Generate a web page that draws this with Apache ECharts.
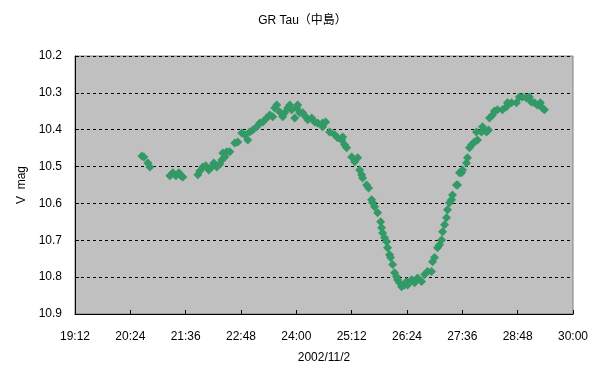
<!DOCTYPE html>
<html><head><meta charset="utf-8">
<script src="https://cdn.jsdelivr.net/npm/echarts@6/dist/echarts.min.js"></script>
<style>html,body{margin:0;padding:0;background:#fff}#c{width:605px;height:383px}</style>
</head><body><div id="c"></div>
<script>
const title = 'GR Tau（中島）';
const xTitle = '2002/11/2';
const yTitle = 'V  mag';
// observation time (hours since 0:00 of 2002/11/2)
const times = [20.651,20.694,20.781,20.824,
21.258,21.323,21.388,21.453,21.496,21.539,
21.864,21.907,21.972,22.037,22.102,22.167,22.211,22.276,22.341,22.384,22.406,22.449,22.492,22.557,
22.665,22.730,22.817,22.882,22.947,22.990,23.055,23.142,23.207,23.272,23.359,23.424,23.489,23.532,23.575,
23.640,23.705,23.748,23.813,23.857,23.900,23.965,24.008,24.030,24.073,24.138,24.203,24.247,24.333,24.398,
24.463,24.571,24.636,24.571,24.723,24.831,24.896,24.983,25.005,25.048,25.091,25.200,25.265,25.330,25.373,
25.416,25.438,25.524,25.568,25.633,25.654,25.698,25.763,25.828,25.849,25.871,25.914,25.958,25.979,26.023,
26.044,26.088,26.131,26.174,26.196,26.239,26.282,26.347,26.391,26.412,26.499,26.564,26.629,26.716,26.781,
26.846,26.932,26.954,26.997,27.062,27.106,27.149,27.171,27.214,27.257,27.279,27.322,27.366,27.387,27.474,
27.495,27.539,27.582,27.604,27.690,27.712,27.755,27.799,27.864,27.929,27.907,28.015,28.037,28.124,28.167,
28.189,28.254,28.297,28.362,28.470,28.557,28.578,28.665,28.773,28.838,28.903,28.990,29.055,29.098,29.163,
29.228,29.293,29.336,29.380];
// V magnitude
const mags = [10.471,10.474,10.490,10.501,
10.525,10.517,10.525,10.517,10.525,10.528,
10.522,10.512,10.501,10.498,10.509,10.501,10.490,10.501,10.493,10.482,10.463,10.474,10.460,10.460,
10.436,10.433,10.409,10.414,10.428,10.406,10.401,10.392,10.382,10.379,10.368,10.360,10.365,10.341,10.333,
10.352,10.365,10.354,10.341,10.333,10.346,10.368,10.341,10.333,10.354,10.354,10.365,10.373,10.368,10.379,
10.382,10.382,10.379,10.392,10.406,10.414,10.422,10.428,10.420,10.441,10.449,10.474,10.487,10.476,10.509,
10.522,10.531,10.550,10.558,10.590,10.598,10.609,10.625,10.650,10.666,10.680,10.693,10.704,10.720,10.739,
10.747,10.766,10.788,10.799,10.807,10.815,10.826,10.821,10.812,10.821,10.807,10.815,10.802,10.812,10.793,
10.785,10.785,10.758,10.747,10.720,10.712,10.699,10.677,10.658,10.639,10.617,10.598,10.590,10.577,10.550,
10.550,10.517,10.517,10.509,10.490,10.476,10.449,10.441,10.433,10.428,10.406,10.406,10.392,10.406,10.401,
10.368,10.360,10.349,10.346,10.346,10.338,10.327,10.327,10.327,10.311,10.311,10.314,10.311,10.325,10.327,
10.333,10.327,10.341,10.346];
const xMin = 19.2, xMax = 30, xStep = 1.2;
const yMin = 10.2, yMax = 10.9, yStep = 0.1;

const data = times.map((t, i) => [t, mags[i]]);
const font = '"Liberation Sans","Noto Sans CJK JP",sans-serif';
function hm(v) {
  const m = Math.round(v * 60);
  const h = Math.floor(m / 60), mm = m % 60;
  return h + ':' + (mm < 10 ? '0' : '') + mm;
}
const chart = echarts.init(document.getElementById('c'));
chart.setOption({
  animation: false,
  backgroundColor: '#ffffff',
  title: {
    text: title, left: 'center', top: 10,
    textStyle: { fontFamily: font, fontSize: 12, fontWeight: 'normal', color: '#000' }
  },
  grid: { left: 75, top: 56, right: 32, bottom: 69, show: true,
    backgroundColor: '#c0c0c0', borderColor: '#808080', borderWidth: 1 },
  xAxis: {
    type: 'value', min: xMin, max: xMax, interval: xStep,
    name: xTitle, nameLocation: 'middle', nameGap: 38,
    nameTextStyle: { fontFamily: font, fontSize: 12, color: '#000' },
    axisLine: { show: true, lineStyle: { color: '#000', width: 1 } },
    axisTick: { show: true, inside: true, length: 4, lineStyle: { color: '#000' } },
    axisLabel: { formatter: hm, fontFamily: font, fontSize: 12, color: '#000', margin: 17 },
    splitLine: { show: false }
  },
  yAxis: {
    type: 'value', inverse: true, min: yMin, max: yMax, interval: yStep,
    name: yTitle, nameLocation: 'middle', nameGap: 47, nameRotate: 90,
    nameTextStyle: { fontFamily: font, fontSize: 12, color: '#000' },
    axisLine: { show: true, lineStyle: { color: '#000', width: 1 } },
    axisTick: { show: true, inside: true, length: 4, lineStyle: { color: '#000' } },
    axisLabel: { formatter: v => v.toFixed(1), fontFamily: font, fontSize: 12, color: '#000', margin: 13 },
    splitLine: { show: true, lineStyle: { color: '#000', type: [3, 3], width: 1 } }
  },
  series: [{
    type: 'scatter', data: data, symbol: 'diamond', symbolSize: 9,
    itemStyle: { color: '#339966', opacity: 1 }
  }]
});
</script></body></html>
